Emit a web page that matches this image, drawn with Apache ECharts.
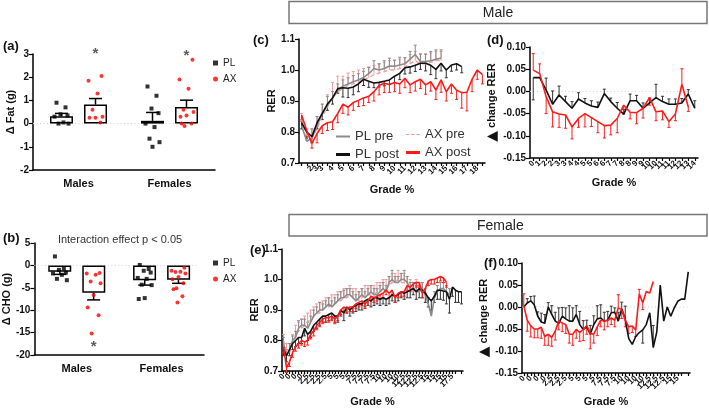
<!DOCTYPE html>
<html><head><meta charset="utf-8">
<script src="https://cdn.jsdelivr.net/npm/echarts@6/dist/echarts.min.js"></script>
<style>html,body{margin:0;padding:0;background:#fff}#c{width:709px;height:408px}</style>
</head><body><div id="c"></div>
<script>
// ================= DATA =================
const groups = ['Males', 'Females'];
// (a) Δ Fat (g)
const fatMeanPL = [0.32, 0.12];
const fatMeanAX = [0.82, 0.72];
const fatSemPL = [0.12, 0.36];
const fatSemAX = [0.26, 0.29];
const fatPL_Males = [0.9, 0.7, 0.4, 0.35, 0.3, 0.05, 0.0, 0.0];
const fatPL_Females = [1.6, 1.2, 0.65, 0.45, 0.0, -0.15, -0.65, -0.8, -1.0];
const fatAX_Males = [2.05, 1.85, 1.3, 0.6, 0.3, 0.25, 0.25, 0.05];
const fatAX_Females = [2.75, 1.9, 1.5, 0.6, 0.5, 0.35, 0.3, 0.0, -0.1, 0.0];
const fatStarAX = [3.18, 3.08];
// (b) Δ CHO (g)
const choMeanPL = [-1.4, -3.3];
const choMeanAX = [-6.1, -3.2];
const choSemPL = [-0.6, -1.1];
const choSemAX = [-1.6, -0.8];
const choPL_Males = [2.0, -0.7, -1.0, -1.6, -1.8, -2.1, -3.0, -3.3];
const choPL_Females = [0.1, -0.8, -1.2, -1.6, -2.8, -3.0, -4.3, -4.4, -7.3, -7.5];
const choAX_Males = [-1.7, -1.8, -2.1, -3.6, -4.0, -6.6, -9.4, -11.1, -15.2];
const choAX_Females = [-0.5, -1.2, -1.4, -1.5, -1.8, -2.6, -3.1, -4.0, -5.1, -5.3, -6.9, -8.3];
const choStarAX = [-17.4, null];

// (c) Male RER
const cCats = ['', '', '2', '3', '3', '', '4', '', '5', '', '6', '', '7', '', '8', '', '9', '', '10', '', '11', '', '12', '', '13', '', '14', '', '15', '', '16', '', '17', '', '18', ''];
const cPLpre = [0.82, 0.77, 0.78, 0.82, 0.86, 0.885, 0.91, 0.935, 0.948, 0.955, 0.962, 0.968, 0.976, 0.988, 1.005, 1.0, 1.005, 1.013, 1.012, 1.016, 1.02, 1.035, 1.05, 1.027, 1.027, 1.03, 1.035, 1.038];
const cPLpreErr = [0.02, 0.02, 0.03, 0.03, 0.03, 0.03, 0.02, 0.02, 0.02, 0.02, 0.02, 0.02, 0.02, 0.02, 0.025, 0.02, 0.025, 0.025, 0.02, 0.025, 0.02, 0.025, 0.03, 0.025, 0.025, 0.03, 0.03, 0.027];
const cAXpre = [0.84, 0.79, 0.78, 0.81, 0.85, 0.88, 0.91, 0.93, 0.94, 0.95, 0.955, 0.96, 0.97, 0.975, 0.985, 0.99, 0.995, 1.0, 1.0, 1.005, 1.01, 1.02, 1.03, 1.02, 1.02, 1.025, 1.03, 1.03];
const cAXpreErr = [0.02, 0.02, 0.03, 0.04, 0.04, 0.04, 0.05, 0.05, 0.04, 0.04, 0.04, 0.04, 0.035, 0.035, 0.03, 0.03, 0.03, 0.03, 0.03, 0.03, 0.03, 0.03, 0.03, 0.03, 0.03, 0.03, 0.03, 0.03];
const cPLpost = [0.83, 0.80, 0.785, 0.83, 0.86, 0.89, 0.91, 0.94, 0.943, 0.941, 0.945, 0.955, 0.97, 0.964, 0.958, 0.96, 0.964, 0.968, 0.98, 0.989, 1.007, 1.01, 1.015, 1.022, 1.022, 1.015, 1.002, 1.022, 1.0, 1.016, 1.02, 1.011];
const cPLpostErr = [-0.02, -0.02, -0.02, -0.02, -0.02, -0.02, -0.02, -0.015, -0.03, -0.03, -0.025, -0.025, -0.02, -0.02, -0.015, -0.015, -0.015, -0.015, -0.02, -0.02, -0.02, -0.02, -0.02, -0.02, -0.025, -0.03, -0.03, -0.025, -0.025, -0.02, -0.02, -0.02];
const cAXpost = [0.855, 0.805, 0.763, 0.795, 0.82, 0.83, 0.833, 0.86, 0.89, 0.88, 0.895, 0.902, 0.91, 0.915, 0.93, 0.95, 0.957, 0.953, 0.96, 0.955, 0.973, 0.952, 0.962, 0.97, 0.952, 0.962, 0.935, 0.968, 0.93, 0.955, 0.935, 0.927, 0.928, 0.97, 1.0, 0.985];
const cAXpostErr = [-0.02, -0.02, -0.015, -0.03, -0.025, -0.025, -0.025, -0.03, -0.03, -0.025, -0.025, -0.02, -0.025, -0.02, -0.03, -0.03, -0.03, -0.025, -0.03, -0.03, -0.03, -0.025, -0.03, -0.03, -0.03, -0.03, -0.03, -0.04, -0.03, -0.03, -0.03, -0.05, -0.06, -0.04, -0.03, -0.03];

// (d) Male change RER
const dCats = ['0', '1', '2', '2', '3', '3', '4', '4', '5', '5', '6', '6', '7', '7', '8', '8', '9', '9', '10', '10', '11', '11', '12', '12', '13', '14'];
const dPL = [0.031, 0.031, 0.003, -0.029, -0.008, -0.023, -0.038, -0.017, -0.026, -0.033, -0.036, -0.005, -0.023, -0.038, -0.051, -0.021, -0.021, -0.038, -0.026, -0.014, -0.023, -0.029, -0.029, -0.026, -0.006, -0.038];
const dPLErr = [-0.05, 0.0, 0.027, 0.03, 0.02, 0.012, 0.015, 0.014, 0.01, 0.012, 0.012, 0.01, 0.008, 0.013, 0.01, 0.015, 0.012, 0.012, 0.011, 0.03, 0.012, 0.012, 0.012, 0.01, 0.01, 0.017];
const dAX = [0.048, 0.04, -0.012, -0.046, -0.051, -0.053, -0.08, -0.061, -0.05, -0.059, -0.068, -0.077, -0.076, -0.061, -0.031, -0.047, -0.048, -0.038, -0.014, -0.046, -0.044, -0.068, -0.051, 0.016, -0.035];
const dAXErr = [0.037, 0.022, -0.038, -0.034, -0.03, -0.03, -0.027, -0.02, -0.03, -0.02, -0.025, -0.028, -0.022, -0.032, -0.02, -0.015, -0.025, -0.022, -0.017, -0.02, -0.02, -0.013, -0.015, 0.035, -0.01];

// (e) Female RER
const eLabelSeq = ['0', '0', '0', '0', '2.5', '2.5', '2.5', '2.5', '5', '5', '5', '5', '7.5', '7.5', '7.5', '7.5', '10', '10', '10', '10', '12.5', '12.5', '12.5', '12.5', '15', '15', '15', '15', '17.5', '17.5'];
const ePLpre = [0.79, 0.75, 0.77, 0.80, 0.81, 0.84, 0.85, 0.85, 0.84, 0.86, 0.88, 0.89, 0.90, 0.90, 0.91, 0.92, 0.91, 0.92, 0.93, 0.94, 0.94, 0.95, 0.95, 0.94, 0.93, 0.94, 0.95, 0.94, 0.95, 0.96, 0.95, 0.95, 0.96, 0.97, 0.96, 0.99, 1.00, 0.99, 0.99, 1.00, 1.00, 0.99, 0.97, 0.97, 0.96, 0.96, 0.97, 0.95, 0.92, 0.88, 0.94, 0.96, 0.97, 0.97, 0.96, 0.95];
const ePLpreErr = [0.02, 0.02, 0.02, 0.015, 0.02, 0.025, 0.02, 0.02, 0.02, 0.02, 0.02, 0.02, 0.025, 0.02, 0.02, 0.02, 0.02, 0.02, 0.02, 0.02, 0.025, 0.02, 0.02, 0.02, 0.02, 0.02, 0.02, 0.02, 0.02, 0.02, 0.02, 0.02, 0.02, 0.02, 0.02, 0.02, 0.03, 0.02, 0.02, 0.02, 0.03, 0.02, 0.02, 0.02, 0.02, 0.02, 0.02, 0.02, 0.02, 0.02, 0.02, 0.02, 0.02, 0.02, 0.02, 0.02];
const eAXpre = [0.80, 0.77, 0.76, 0.79, 0.82, 0.83, 0.84, 0.85, 0.86, 0.87, 0.88, 0.89, 0.89, 0.90, 0.91, 0.91, 0.92, 0.92, 0.93, 0.93, 0.94, 0.94, 0.95, 0.94, 0.94, 0.93, 0.94, 0.95, 0.95, 0.95, 0.95, 0.96, 0.96, 0.97, 0.97, 0.98, 0.99, 0.99, 1.0, 0.99, 0.99, 0.98, 0.97, 0.96, 0.97, 0.96, 0.96];
const eAXpreErr = [0.02, 0.02, 0.03, 0.03, 0.03, 0.03, 0.03, 0.03, 0.03, 0.03, 0.03, 0.03, 0.035, 0.03, 0.03, 0.03, 0.03, 0.03, 0.03, 0.03, 0.03, 0.03, 0.03, 0.03, 0.03, 0.03, 0.03, 0.03, 0.03, 0.03, 0.03, 0.03, 0.03, 0.03, 0.03, 0.03, 0.03, 0.03, 0.03, 0.03, 0.03, 0.03, 0.03, 0.03, 0.03, 0.03, 0.03];
const ePLpost = [0.77, 0.75, 0.77, 0.79, 0.80, 0.81, 0.81, 0.84, 0.82, 0.83, 0.85, 0.86, 0.87, 0.88, 0.88, 0.885, 0.89, 0.88, 0.88, 0.90, 0.89, 0.91, 0.90, 0.91, 0.915, 0.92, 0.92, 0.93, 0.935, 0.93, 0.94, 0.94, 0.935, 0.94, 0.935, 0.94, 0.95, 0.945, 0.95, 0.96, 0.955, 0.96, 0.965, 0.97, 0.96, 0.97, 0.965, 0.955, 0.94, 0.93, 0.945, 0.965, 0.965, 0.962, 0.96, 0.935, 0.975, 0.965, 0.96, 0.96];
const ePLpostErr = [-0.02, -0.02, -0.02, -0.02, -0.02, -0.02, -0.02, -0.025, -0.02, -0.02, -0.02, -0.02, -0.02, -0.02, -0.02, -0.02, -0.02, -0.02, -0.02, -0.02, -0.025, -0.02, -0.02, -0.02, -0.02, -0.02, -0.02, -0.02, -0.02, -0.02, -0.025, -0.02, -0.02, -0.02, -0.02, -0.02, -0.02, -0.02, -0.02, -0.02, -0.02, -0.02, -0.025, -0.02, -0.025, -0.03, -0.025, -0.03, -0.03, -0.03, -0.02, -0.03, -0.03, -0.03, -0.04, -0.045, -0.03, -0.04, -0.035, -0.04];
const eAXpost = [0.78, 0.71, 0.73, 0.76, 0.78, 0.79, 0.80, 0.795, 0.80, 0.82, 0.83, 0.85, 0.86, 0.87, 0.875, 0.875, 0.88, 0.87, 0.88, 0.90, 0.91, 0.905, 0.91, 0.91, 0.92, 0.925, 0.93, 0.92, 0.93, 0.945, 0.94, 0.945, 0.95, 0.955, 0.965, 0.955, 0.965, 0.94, 0.955, 0.96, 0.96, 0.98, 0.975, 0.985, 0.99, 0.99, 0.955, 0.97, 0.995, 1.0, 1.0, 1.005, 1.01, 1.005, 0.99];
const eAXpostErr = [-0.02, -0.015, -0.015, -0.015, -0.015, -0.015, -0.015, -0.015, -0.015, -0.015, -0.015, -0.015, -0.015, -0.015, -0.015, -0.015, -0.015, -0.015, -0.015, -0.015, -0.015, -0.015, -0.015, -0.015, -0.015, -0.015, -0.015, -0.015, -0.015, -0.015, -0.015, -0.015, -0.015, -0.015, -0.015, -0.015, -0.015, -0.015, -0.015, -0.015, -0.015, -0.015, -0.015, -0.015, -0.015, -0.015, -0.015, -0.015, -0.015, -0.015, -0.015, -0.015, -0.015, -0.015, -0.015];

// (f) Female change RER
const fLabelSeq = ['0', '0', '0', '0', '2.5', '2.5', '2.5', '5', '5', '5', '5', '7.5', '7.5', '7.5', '10', '10', '10', '10', '12.5', '12.5', '12.5', '15', '15', '15'];
const fPL = [0.0, 0.009, 0.014, 0.005, -0.021, -0.034, -0.037, 0.0, -0.017, -0.032, -0.037, -0.021, -0.027, -0.032, -0.032, -0.017, -0.04, -0.051, -0.045, -0.062, -0.04, -0.027, -0.025, -0.032, -0.03, -0.013, -0.012, -0.032, -0.004, -0.028, -0.072, -0.085, -0.067, -0.058, -0.052, -0.04, -0.013, -0.092, -0.057, 0.05, -0.032, 0.0, -0.021, -0.002, 0.013, 0.018, 0.018, 0.08];
const fPLErr = [0.0, 0.01, 0.01, 0.02, 0.01, 0.02, 0.02, 0.01, 0.02, 0.02, 0.035, 0.02, 0.025, 0.035, 0.03, 0.02, 0.03, 0.02, 0.015, 0.02, 0.02, 0.03, 0.03, 0.02, 0.02, 0.015, 0.01, 0.02, 0.015, 0.03, 0.0, 0.0, 0.0, 0.0, -0.03, 0.0, 0.0, 0.05, 0.0, 0.0, 0.0, 0.0, 0.0, 0.0, 0.0, 0.0, 0.0, 0.0];
const fAX = [0.003, -0.03, -0.043, -0.05, -0.05, -0.046, -0.067, -0.062, -0.069, -0.055, -0.032, -0.036, -0.04, -0.062, -0.062, -0.051, -0.058, -0.051, -0.042, -0.06, -0.062, -0.045, -0.03, -0.032, -0.03, -0.025, -0.03, -0.002, -0.006, -0.03, -0.045, -0.043, -0.052, 0.03, 0.009, 0.035, 0.032, 0.058];
const fAXErr = [0.027, -0.025, -0.025, -0.02, -0.02, -0.025, -0.02, -0.025, -0.02, -0.02, -0.02, -0.02, -0.02, -0.02, -0.025, -0.02, -0.02, -0.025, -0.02, -0.035, -0.02, -0.02, -0.015, -0.02, -0.015, -0.015, -0.015, 0.03, -0.02, -0.015, -0.015, -0.015, -0.015, 0.01, -0.015, 0.0, 0.0, 0.0];

// ================= STYLE / LAYOUT =================
const FONT = 'Liberation Sans, Arial, sans-serif';
const C_GRAY = '#8a8a8a', C_BLACK = '#111', C_RED = '#ff1a1a', C_PINK = '#f29a9a';
const grids = [
  {left: 33, top: 54, width: 182, height: 116},   // a
  {left: 33, top: 243, width: 171, height: 112},  // b
  {left: 299, top: 39, width: 186, height: 124},  // c
  {left: 530, top: 47, width: 168, height: 111},  // d
  {left: 282, top: 249, width: 181, height: 122}, // e
  {left: 522, top: 263, width: 168, height: 111}  // f
];
const double = arr => arr.flatMap(v => [v, v]);

function errRender(color, capW, lw) {
  return function (params, api) {
    const x = api.value(0), v = api.value(1), e = api.value(2);
    const p1 = api.coord([x, v]), p2 = api.coord([x, v + e]);
    return {type: 'group', children: [
      {type: 'line', shape: {x1: p1[0], y1: p1[1], x2: p2[0], y2: p2[1]}, style: {stroke: color, lineWidth: lw}},
      {type: 'line', shape: {x1: p2[0] - capW / 2, y1: p2[1], x2: p2[0] + capW / 2, y2: p2[1]}, style: {stroke: color, lineWidth: lw}}
    ]};
  };
}
function lineS(name, data, g, color, width, dashed, z) {
  return {type: 'line', name, xAxisIndex: g, yAxisIndex: g, data, symbol: 'none',
    lineStyle: {color, width, type: dashed ? [4, 3] : 'solid'}, itemStyle: {color}, z, silent: true};
}
function errS(vals, errs, g, color, z) {
  const d = [];
  vals.forEach((v, i) => { if (v != null && errs[i]) d.push([i, v, errs[i]]); });
  return {type: 'custom', xAxisIndex: g, yAxisIndex: g, data: d, encode: {x: 0, y: 1},
    renderItem: errRender(color, 3, 1), z, silent: true};
}
// light dotted reference line at y = 0
function zeroS(g, frac) {
  return {type: 'custom', xAxisIndex: g, yAxisIndex: g, data: [[0, 0]], encode: {x: 0, y: 1}, z: 1, silent: true,
    renderItem: (params, api) => {
      const cs = params.coordSys;
      const y = api.coord([api.value(0), 0])[1];
      return {type: 'line', shape: {x1: cs.x, y1: y, x2: cs.x + cs.width * frac, y2: y},
        style: {stroke: '#cfcfcf', lineWidth: 1, lineDash: [1, 2.5]}};
    }};
}

const series = [];
function abPanel(g, meanPL, meanAX, semPL, semAX, ptsPL, ptsAX, stars, frac) {
  const band = grids[g].width / 2;
  const off = 17 / band;
  const xv = 6 + g;
  series.push(zeroS(g, frac));
  series.push({type: 'bar', xAxisIndex: g, yAxisIndex: g, data: meanPL, barWidth: 23, barGap: '48%',
    itemStyle: {color: '#fff', borderColor: '#000', borderWidth: 1.5}, silent: true, z: 2});
  series.push({type: 'bar', xAxisIndex: g, yAxisIndex: g, data: meanAX, barWidth: 23, barGap: '48%',
    itemStyle: {color: '#fff', borderColor: '#000', borderWidth: 1.5}, silent: true, z: 2});
  const ed = [];
  meanPL.forEach((m, k) => ed.push([k + 0.5 - off, m, semPL[k]]));
  meanAX.forEach((m, k) => ed.push([k + 0.5 + off, m, semAX[k]]));
  series.push({type: 'custom', xAxisIndex: xv, yAxisIndex: g, data: ed, encode: {x: 0, y: 1},
    renderItem: errRender('#000', 13, 1.5), z: 5, silent: true});
  const jit = [-5, 4, -1, 6, -7, 2, -3, 7, 0, -6, 5, -2];
  const dPLd = [], dAXd = [];
  ptsPL.forEach((arr, k) => arr.forEach((v, j) => dPLd.push([k + 0.5 - off + jit[j % jit.length] / band, v])));
  ptsAX.forEach((arr, k) => arr.forEach((v, j) => dAXd.push([k + 0.5 + off + jit[(j + 3) % jit.length] / band, v])));
  series.push({type: 'scatter', name: 'PL', xAxisIndex: xv, yAxisIndex: g, data: dPLd, symbol: 'rect', symbolSize: 4,
    itemStyle: {color: '#000'}, z: 6, silent: true});
  series.push({type: 'scatter', name: 'AX', xAxisIndex: xv, yAxisIndex: g, data: dAXd, symbol: 'circle', symbolSize: 4,
    itemStyle: {color: '#ff0000'}, z: 6, silent: true});
  const sd = [];
  stars.forEach((v, k) => { if (v != null) sd.push([k + 0.5 + off, v]); });
  series.push({type: 'scatter', xAxisIndex: xv, yAxisIndex: g, data: sd, symbolSize: 1, clip: false, itemStyle: {color: 'rgba(0,0,0,0)'},
    label: {show: true, position: 'inside', formatter: '*', fontSize: 15, fontWeight: 'bold', color: '#333', offset: [0, 4]}, z: 7, silent: true});
}
abPanel(0, fatMeanPL, fatMeanAX, fatSemPL, fatSemAX, [fatPL_Males, fatPL_Females], [fatAX_Males, fatAX_Females], fatStarAX, 0.9);
abPanel(1, choMeanPL, choMeanAX, choSemPL, choSemAX, [choPL_Males, choPL_Females], [choAX_Males, choAX_Females], choStarAX, 0.96);

// (c)
series.push(errS(cAXpre, cAXpreErr, 2, C_PINK, 3));
series.push(errS(cPLpre, cPLpreErr, 2, C_GRAY, 3));
series.push(errS(cPLpost, cPLpostErr, 2, '#333', 3));
series.push(errS(cAXpost, cAXpostErr, 2, C_RED, 3));
series.push(lineS('AX pre', cAXpre, 2, C_PINK, 1.3, true, 4));
series.push(lineS('PL pre', cPLpre, 2, C_GRAY, 1.6, false, 5));
series.push(lineS('PL post', cPLpost, 2, C_BLACK, 1.6, false, 6));
series.push(lineS('AX post', cAXpost, 2, C_RED, 1.6, false, 7));
// (d)
series.push(zeroS(3, 1));
series.push(errS(dPL, dPLErr, 3, '#333', 3));
series.push(errS(dAX, dAXErr, 3, C_RED, 3));
series.push(lineS('dPL', dPL, 3, C_BLACK, 1.6, false, 5));
series.push(lineS('dAX', dAX, 3, C_RED, 1.6, false, 6));
// (e)
series.push(errS(eAXpre, eAXpreErr, 4, C_PINK, 3));
series.push(errS(ePLpre, ePLpreErr, 4, C_GRAY, 3));
series.push(errS(ePLpost, ePLpostErr, 4, '#333', 3));
series.push(errS(eAXpost, eAXpostErr, 4, C_RED, 3));
series.push(lineS('eAXpre', eAXpre, 4, C_PINK, 1.3, true, 4));
series.push(lineS('ePLpre', ePLpre, 4, C_GRAY, 1.6, false, 5));
series.push(lineS('ePLpost', ePLpost, 4, C_BLACK, 1.6, false, 6));
series.push(lineS('eAXpost', eAXpost, 4, C_RED, 1.6, false, 7));
// (f)
series.push(zeroS(5, 1));
series.push(errS(fPL, fPLErr, 5, '#333', 3));
series.push(errS(fAX, fAXErr, 5, C_RED, 3));
series.push(lineS('fPL', fPL, 5, C_BLACK, 1.6, false, 5));
series.push(lineS('fAX', fAX, 5, C_RED, 1.6, false, 6));

// ================= AXES =================
const axLine = {show: true, onZero: false, lineStyle: {color: '#000', width: 1.5}};
const tickLbl = {fontFamily: FONT, fontWeight: 'bold', fontSize: 10, color: '#111'};
const nameStyle = {fontFamily: FONT, fontWeight: 'bold', fontSize: 11, color: '#111',
  rich: {t: {fontFamily: 'DejaVu Sans', fontSize: 14, fontWeight: 'bold', color: '#111'}}};
function catAxis(g, data, interval, nameGap) {
  return {type: 'category', gridIndex: g, data, boundaryGap: true, axisLine: axLine,
    axisTick: {show: true, alignWithLabel: true, interval: 0, length: 3, lineStyle: {color: '#000', width: 1.2}},
    axisLabel: Object.assign({}, tickLbl, {fontSize: 8, interval, rotate: 45, margin: 4}),
    name: 'Grade %', nameLocation: 'middle', nameGap, nameTextStyle: nameStyle};
}
function valAxis(g, min, max, interval, dec, name, nameGap) {
  return {type: 'value', gridIndex: g, min, max, interval, axisLine: axLine,
    axisTick: {show: true, length: 4, lineStyle: {color: '#000', width: 1.2}}, splitLine: {show: false},
    axisLabel: Object.assign({}, tickLbl, {formatter: v => dec == null ? String(Math.round(v)) : v.toFixed(dec), margin: 4}),
    name, nameLocation: 'middle', nameGap, nameTextStyle: nameStyle};
}
const xAxis = [
  {type: 'category', gridIndex: 0, data: groups, axisLine: axLine, axisTick: {show: false},
    axisLabel: Object.assign({}, tickLbl, {fontSize: 11, margin: 8})},
  {type: 'category', gridIndex: 1, data: groups, axisLine: axLine, axisTick: {show: false},
    axisLabel: Object.assign({}, tickLbl, {fontSize: 11, margin: 8})},
  catAxis(2, cCats, 0, 21),
  catAxis(3, dCats, 0, 19),
  catAxis(4, double(eLabelSeq), 1, 25),
  catAxis(5, double(fLabelSeq), 1, 23),
  {type: 'value', gridIndex: 0, min: 0, max: 2, show: false, axisLine: {onZero: false}},
  {type: 'value', gridIndex: 1, min: 0, max: 2, show: false, axisLine: {onZero: false}}
];
const yAxis = [
  valAxis(0, -2, 3, 1, null, 'Δ Fat (g)', 16),
  valAxis(1, -20, 5, 5, null, 'Δ CHO (g)', 16),
  valAxis(2, 0.7, 1.1, 0.1, 1, 'RER', 21),
  valAxis(3, -0.15, 0.10, 0.05, 2, '{t|▲} change RER', 27),
  valAxis(4, 0.7, 1.1, 0.1, 1, 'RER', 18),
  valAxis(5, -0.15, 0.10, 0.05, 2, '{t|▲} change RER', 26)
];

// ================= TEXT / DECOR =================
const letter = (t, x, y) => ({type: 'text', x, y, style: {text: t, fontFamily: FONT, fontWeight: 'bold', fontSize: 13, fill: '#111', textVerticalAlign: 'middle'}});
const graphic = [
  {type: 'rect', shape: {x: 289, y: 1.5, width: 418, height: 22}, style: {fill: '#fff', stroke: '#777', lineWidth: 1.5}},
  {type: 'text', x: 498, y: 13, style: {text: 'Male', fontFamily: FONT, fontSize: 14, fill: '#222', textAlign: 'center', textVerticalAlign: 'middle'}},
  {type: 'rect', shape: {x: 289, y: 214.5, width: 418, height: 21.5}, style: {fill: '#fff', stroke: '#777', lineWidth: 1.5}},
  {type: 'text', x: 477, y: 226, style: {text: 'Female', fontFamily: FONT, fontSize: 14, fill: '#222', textVerticalAlign: 'middle'}},
  {type: 'text', x: 120, y: 240, style: {text: 'Interaction effect p < 0.05', fontFamily: FONT, fontSize: 11, fill: '#333', textAlign: 'center', textVerticalAlign: 'middle'}},
  letter('(a)', 3, 46), letter('(b)', 3, 238), letter('(c)', 253, 40), letter('(d)', 487, 40),
  letter('(e)', 250, 250), letter('(f)', 484, 263)
];

const abLegend = top => ({show: true, orient: 'vertical', left: 208, top, itemWidth: 5, itemHeight: 5, itemGap: 6,
  selectedMode: false, textStyle: {fontFamily: FONT, fontSize: 10, color: '#222'},
  data: [{name: 'PL', icon: 'rect'}, {name: 'AX', icon: 'circle'}]});
const lineLegend = (name, left, top, h, color, icon) => ({show: true, left, top, itemWidth: 14, itemHeight: h,
  selectedMode: false, textStyle: {fontFamily: FONT, fontSize: 13, color: '#333'},
  data: [{name, icon, itemStyle: {color}}]});
const DASH_ICON = 'path://M0,0h4v1h-4z M6,0h4v1h-4z M12,0h4v1h-4z';

const chart = echarts.init(document.getElementById('c'), null, {renderer: 'canvas'});
chart.setOption({
  animation: false,
  backgroundColor: '#fff',
  textStyle: {fontFamily: FONT},
  grid: grids,
  xAxis, yAxis, series, graphic,
  legend: [abLegend(53), abLegend(253),
    lineLegend('PL pre', 331, 125, 2, C_GRAY, 'rect'),
    lineLegend('PL post', 331, 143, 3, C_BLACK, 'rect'),
    lineLegend('AX pre', 401, 123, 2, C_PINK, DASH_ICON),
    lineLegend('AX post', 401, 141, 3, C_RED, 'rect')]
});
</script></body></html>
